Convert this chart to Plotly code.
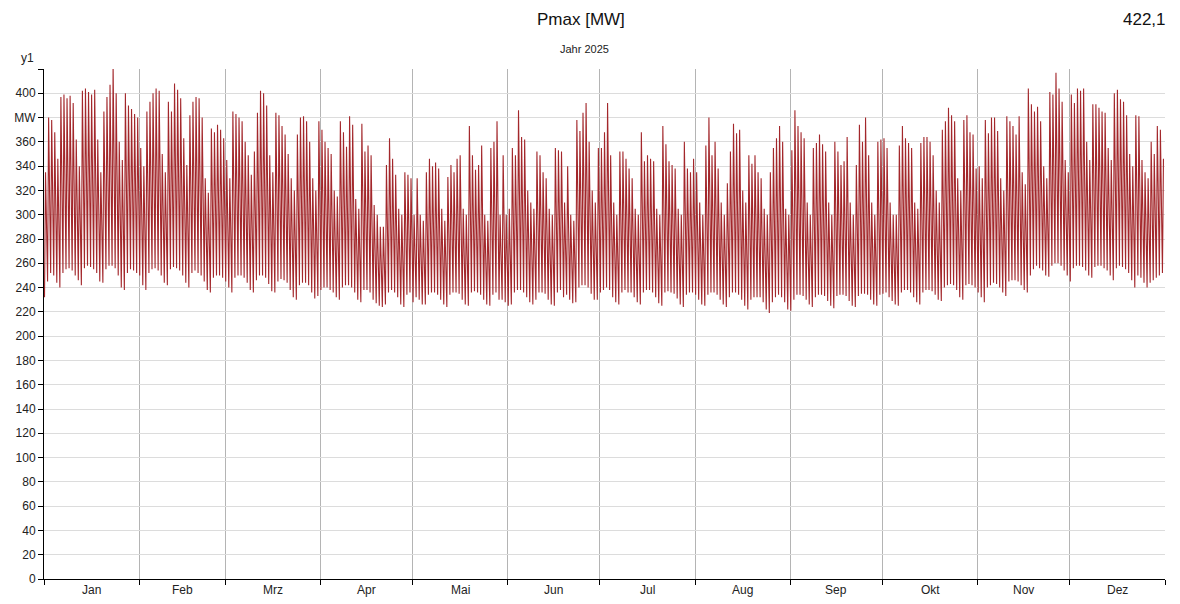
import datetime as dt
import plotly.graph_objects as go

# ---------------- data ----------------
year = 2025
month_names = ["Jan", "Feb", "Mrz", "Apr", "Mai", "Jun", "Jul", "Aug", "Sep", "Okt", "Nov", "Dez"]
title_text = "Pmax [MW]"
peak_text = "422,1"
subtitle_text = "Jahr 2025"

# daily maximum load [MW]
daily_max = [
    # Jan
    335, 380, 378, 368, 346, 397, 399, 396, 398, 392, 362, 340, 402, 404, 401, 399, 403, 362, 335, 385, 397, 407, 422.1, 400, 360, 345, 400, 390, 387, 383, 380,
    # Feb
    355, 340, 385, 393, 400, 404, 402, 350, 335, 393, 385, 408, 403, 396, 363, 341, 382, 393, 397, 396, 380, 330, 318, 371, 368, 374, 370, 363,
    # Mrz
    345, 330, 385, 383, 380, 377, 360, 349, 333, 352, 384, 402, 400, 390, 349, 335, 384, 382, 373, 366, 350, 330, 320, 366, 380, 381, 377, 360, 330, 320, 377,
    # Apr
    370, 360, 355, 350, 320, 315, 377, 368, 356, 381, 374, 313, 305, 375, 352, 357, 349, 308, 300, 290, 290, 341, 363, 346, 333, 305, 300, 335, 333, 330,
    # Mai
    300, 330, 300, 295, 335, 346, 340, 343, 338, 305, 295, 331, 341, 335, 346, 349, 305, 300, 373, 349, 337, 341, 357, 300, 295, 355, 360, 377, 300, 349, 300,
    # Jun
    305, 355, 349, 386, 364, 362, 320, 310, 305, 352, 349, 335, 330, 305, 300, 355, 353, 352, 310, 340, 300, 295, 378, 369, 384, 392, 360, 320, 310, 355,
    # Jul
    355, 368, 392, 349, 310, 300, 352, 352, 346, 338, 330, 305, 300, 368, 344, 349, 346, 344, 305, 300, 373, 358, 344, 341, 338, 305, 300, 360, 338, 335, 346,
    # Aug
    335, 310, 300, 357, 380, 349, 360, 338, 310, 300, 326, 352, 375, 367, 370, 320, 310, 349, 342, 349, 335, 330, 305, 300, 335, 355, 363, 373, 360, 305, 300,
    # Sep
    353, 386, 373, 368, 363, 310, 300, 355, 359, 366, 358, 352, 310, 300, 360, 352, 341, 344, 364, 310, 300, 341, 374, 360, 380, 349, 310, 300, 360, 362,
    # Okt
    363, 355, 310, 300, 300, 357, 373, 363, 359, 355, 310, 305, 359, 364, 364, 360, 349, 320, 310, 370, 377, 388, 382, 377, 330, 320, 378, 382, 368, 366, 338,
    # Nov
    340, 330, 378, 367, 380, 380, 369, 330, 320, 381, 377, 373, 366, 381, 335, 325, 404, 391, 385, 389, 377, 340, 330, 401, 399, 417, 404, 393, 345, 335,
    # Dez
    399, 392, 404, 402, 404, 360, 345, 391, 391, 388, 385, 384, 355, 345, 400, 403, 395, 393, 382, 350, 340, 382, 381, 345, 335, 330, 360, 350, 373, 370, 346,
]

# daily minimum load [MW]
daily_min = [
    # Jan
    232, 245, 252, 250, 244, 240, 252, 255, 256, 254, 250, 246, 242, 256, 258, 257, 255, 252, 245, 244, 255, 258, 258, 256, 250, 240, 238, 252, 255, 254, 252,
    # Feb
    250, 242, 238, 252, 255, 256, 254, 250, 244, 242, 255, 257, 256, 254, 250, 244, 240, 252, 254, 252, 250, 245, 238, 236, 248, 250, 250, 248,
    # Mrz
    245, 240, 236, 248, 250, 250, 248, 244, 238, 236, 246, 250, 250, 248, 243, 237, 236, 245, 247, 246, 244, 238, 232, 230, 242, 244, 244, 242, 236, 231, 233,
    # Apr
    238, 240, 240, 238, 236, 232, 230, 240, 242, 242, 240, 236, 230, 228, 238, 238, 236, 230, 227, 225, 224, 226, 236, 238, 236, 232, 226, 224, 234, 236,
    # Mai
    228, 232, 230, 226, 226, 234, 236, 236, 234, 230, 226, 224, 234, 236, 236, 235, 230, 226, 225, 236, 237, 236, 234, 230, 226, 225, 234, 236, 230, 230, 228,
    # Jun
    225, 226, 236, 238, 238, 236, 232, 228, 226, 230, 236, 236, 235, 230, 226, 225, 236, 238, 232, 234, 230, 227, 228, 240, 242, 242, 240, 235, 230, 230,
    # Jul
    236, 238, 240, 238, 232, 228, 226, 236, 238, 236, 236, 232, 228, 226, 236, 238, 238, 236, 232, 227, 225, 236, 237, 236, 235, 231, 226, 224, 234, 236, 236,
    # Aug
    234, 230, 226, 225, 234, 236, 236, 234, 230, 226, 224, 232, 236, 236, 234, 230, 225, 222, 230, 232, 232, 232, 228, 222, 219, 228, 232, 234, 232, 228, 222,
    # Sep
    221, 230, 234, 234, 233, 230, 226, 224, 232, 234, 234, 233, 229, 225, 223, 233, 234, 234, 233, 229, 225, 224, 233, 235, 235, 234, 230, 226, 225, 234,
    # Okt
    235, 236, 232, 229, 226, 225, 236, 238, 238, 236, 232, 228, 226, 236, 238, 238, 237, 234, 230, 229, 240, 242, 243, 242, 238, 232, 230, 242, 243, 242, 240,
    # Nov
    236, 232, 228, 240, 242, 244, 243, 240, 236, 233, 245, 246, 246, 245, 242, 238, 236, 250, 255, 258, 256, 254, 250, 249, 258, 260, 260, 258, 254, 250,
    # Dez
    245, 256, 258, 258, 257, 254, 250, 248, 257, 258, 258, 256, 254, 250, 246, 256, 258, 257, 255, 252, 246, 240, 250, 248, 244, 240, 244, 246, 248, 250, 252,
]

y_ticks = list(range(0, 401, 20))

# ---------------- build the series (night minimum, midday maximum) ----------------
start = dt.datetime(year, 1, 1)
xs, ys = [], []
for i, (mx, mn) in enumerate(zip(daily_max, daily_min)):
    day = start + dt.timedelta(days=i)
    xs.append(day + dt.timedelta(hours=4))
    ys.append(mn)
    xs.append(day + dt.timedelta(hours=12))
    ys.append(mx)

month_starts = [dt.datetime(year, m, 1) for m in range(1, 13)] + [dt.datetime(year + 1, 1, 1)]

fig = go.Figure()
fig.add_trace(go.Scatter(
    x=xs, y=ys, mode="lines",
    line=dict(color="#a3272b", width=1.1),
    hoverinfo="x+y", showlegend=False,
))

font_family = "Liberation Sans, Arial, sans-serif"

# the page body adds an 8 px offset, so the figure is sized to fit the window
fig.update_layout(
    width=1172, height=596,
    margin=dict(l=36, r=15, t=61, b=25),
    paper_bgcolor="white", plot_bgcolor="white",
    font=dict(family=font_family, size=12, color="#222"),
    xaxis=dict(
        type="date",
        range=[month_starts[0], month_starts[-1]],
        tickvals=month_starts,
        showticklabels=False,
        ticks="outside", ticklen=5, tickcolor="#000",
        showgrid=True, gridcolor="#b4b4b4", gridwidth=1,
        showline=True, linecolor="#000", linewidth=1,
        zeroline=False, fixedrange=True, automargin=False,
    ),
    yaxis=dict(
        range=[0, 420],
        tickvals=y_ticks + [420],
        ticktext=[("MW" if v == 380 else str(v)) for v in y_ticks] + [""],
        ticks="outside", ticklen=5, tickcolor="#000",
        showgrid=True, gridcolor="#dcdcdc", gridwidth=1,
        showline=True, linecolor="#000", linewidth=1,
        zeroline=False, fixedrange=True, automargin=False,
        tickfont=dict(size=12, color="#222"),
    ),
)

annotations = []
for m, name in enumerate(month_names):
    a, b = month_starts[m], month_starts[m + 1]
    mid = a + (b - a) / 2
    annotations.append(dict(
        x=mid, y=0, xref="x", yref="paper", text=name, showarrow=False,
        yanchor="top", yshift=-2, font=dict(size=12, color="#222"),
    ))

top_y = 1 + 61 / 510  # top edge of the figure in paper units
annotations += [
    dict(x=0.4786, y=top_y, xref="paper", yref="paper", text=title_text, showarrow=False,
         xanchor="center", yanchor="top", font=dict(size=17, color="#111")),
    dict(x=1.0, y=top_y, xref="paper", yref="paper", text=peak_text, showarrow=False,
         xanchor="right", yanchor="top", xshift=3, font=dict(size=17, color="#111")),
    dict(x=0.4826, y=1.039, xref="paper", yref="paper", text=subtitle_text, showarrow=False,
         xanchor="center", yanchor="middle", font=dict(size=11, color="#222")),
    dict(x=0, y=1.022, xref="paper", yref="paper", text="y1", showarrow=False,
         xanchor="right", yanchor="middle", xshift=-8, font=dict(size=12, color="#222")),
]
fig.update_layout(annotations=annotations)

fig.write_html("out.html")
